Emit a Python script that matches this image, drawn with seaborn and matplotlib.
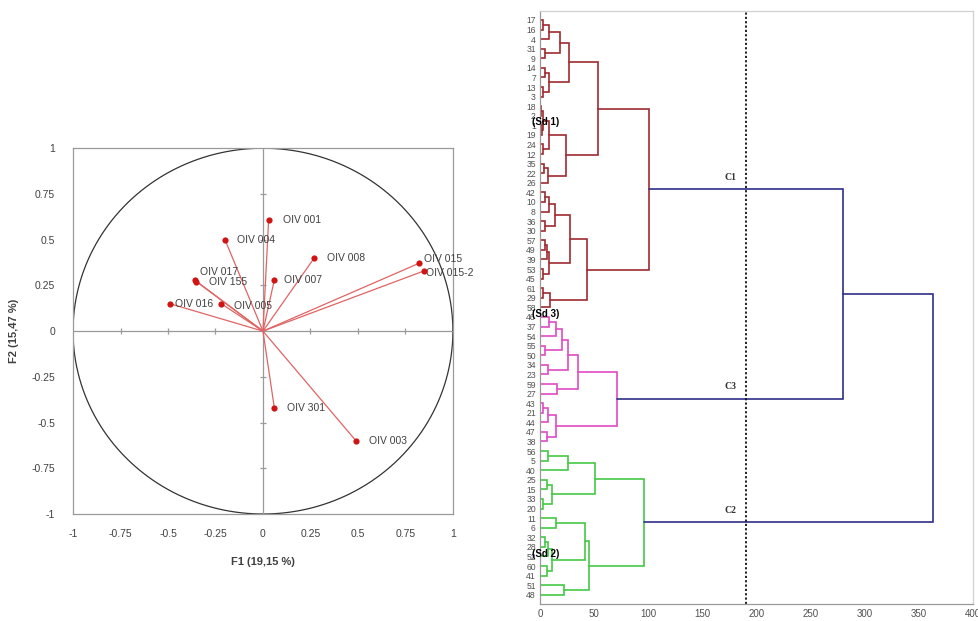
import numpy as np
import matplotlib
matplotlib.use("Agg")
import matplotlib.pyplot as plt
import seaborn as sns
import pandas as pd

# --- data: correlation circle (F1 x F2) ---
variables = ["OIV 001", "OIV 004", "OIV 008", "OIV 015", "OIV 015-2", "OIV 017",
             "OIV 155", "OIV 007", "OIV 016", "OIV 005", "OIV 301", "OIV 003"]
f1 = [0.03, -0.20, 0.27, 0.82, 0.85, -0.36, -0.35, 0.06, -0.49, -0.22, 0.06, 0.49]
f2 = [0.61, 0.50, 0.40, 0.37, 0.33, 0.28, 0.27, 0.28, 0.15, 0.15, -0.42, -0.60]
circle_ticks = [-1, -0.75, -0.5, -0.25, 0, 0.25, 0.5, 0.75, 1]
circle_ticklabels = ["-1", "-0.75", "-0.5", "-0.25", "0", "0.25", "0.5", "0.75", "1"]

# --- data: dendrogram ---
leaf_order = ["17", "16", "4", "31", "9", "14", "7", "13", "3", "18", "2", "1", "19", "24",
              "12", "35", "22", "26", "42", "10", "8", "36", "30", "57", "49", "39", "53",
              "45", "61", "29", "58", "46", "37", "54", "55", "50", "34", "23", "59", "27",
              "43", "21", "44", "47", "38", "56", "5", "40", "25", "15", "33", "20", "11",
              "6", "32", "28", "52", "60", "41", "51", "48"]

red_merges = [("r1", "17", "16", 2.8), ("r2", "r1", "4", 8), ("r3", "31", "9", 4.6),
              ("r4", "r2", "r3", 18), ("r5", "14", "7", 4.6), ("r6", "13", "3", 3),
              ("r7", "r5", "r6", 8.3), ("r8", "r4", "r7", 27), ("r9", "18", "2", 0.5),
              ("r10", "1", "19", 2), ("r11", "r9", "r10", 3), ("r12", "24", "12", 3),
              ("r13", "r11", "r12", 8), ("r14", "35", "22", 4), ("r15", "r14", "26", 7),
              ("r16", "r13", "r15", 24), ("r17", "r8", "r16", 54), ("r18", "42", "10", 4.6),
              ("r19", "r18", "8", 8.3), ("r20", "36", "30", 4.6), ("r21", "r19", "r20", 13.9),
              ("r22", "57", "49", 4.6), ("r23", "r22", "39", 6.5), ("r24", "53", "45", 3),
              ("r25", "r23", "r24", 8.3), ("r26", "r21", "r25", 27.7), ("r27", "61", "29", 3),
              ("r28", "r27", "58", 9), ("r29", "r26", "r28", 43), ("r30", "r17", "r29", 101)]
magenta_merges = [("m1", "46", "37", 8), ("m2", "m1", "54", 14.5), ("m3", "55", "50", 4.6),
                  ("m4", "m2", "m3", 20), ("m5", "34", "23", 7.7), ("m6", "m4", "m5", 26),
                  ("m7", "59", "27", 15.4), ("m8", "m6", "m7", 35.4), ("m9", "43", "21", 3),
                  ("m10", "m9", "44", 7.7), ("m11", "47", "38", 6), ("m12", "m10", "m11", 14.5),
                  ("m13", "m8", "m12", 70.8)]
green_merges = [("g1", "56", "5", 7.7), ("g2", "g1", "40", 26), ("g3", "25", "15", 6),
                ("g4", "33", "20", 3), ("g5", "g3", "g4", 10.8), ("g6", "g2", "g5", 50.8),
                ("g7", "11", "6", 14.5), ("g8", "32", "28", 4.6), ("g9", "g8", "52", 7.7),
                ("g10", "60", "41", 6), ("g11", "g9", "g10", 10.8), ("g12", "g7", "g11", 41.6),
                ("g13", "51", "48", 22.5), ("g14", "g12", "g13", 45.3), ("g15", "g6", "g14", 96.4)]
blue_merges = [("b1", "r30", "m13", 280), ("b2", "b1", "g15", 363)]
cluster_names = ["C1", "C3", "C2"]
cluster_nodes = ["r30", "m13", "g15"]
sd_names = ["(Sd 1)", "(Sd 3)", "(Sd 2)"]
sd_leaves = ["1", "46", "52"]
cut_height = 190

sns.set_style("white")
plt.rcParams["font.family"] = ["Liberation Sans", "DejaVu Sans"]

fig = plt.figure(figsize=(9.79, 6.21), dpi=100)
ax1 = fig.add_axes([0.0746, 0.1723, 0.388, 0.589])
ax2 = fig.add_axes([0.5516, 0.0274, 0.4423, 0.955])

# ---------- left: correlation circle ----------
grey = "#9a9a9a"
theta = np.linspace(0, 2 * np.pi, 400)
ax1.plot(np.cos(theta), np.sin(theta), color="#333333", lw=0.9)
ax1.axhline(0, color=grey, lw=0.9)
ax1.axvline(0, color=grey, lw=0.9)
inner = [t for t in circle_ticks if t not in (-1, 0, 1)]
ax1.plot(inner, [0] * len(inner), "|", color=grey, ms=5, mew=0.9)
ax1.plot([0] * len(inner), inner, "_", color=grey, ms=5, mew=0.9)

df = pd.DataFrame({"var": variables, "F1": f1, "F2": f2})
for x, y in zip(f1, f2):
    ax1.plot([0, x], [0, y], color="#e06464", lw=0.9)
sns.scatterplot(data=df, x="F1", y="F2", ax=ax1, color="#d01414", s=20,
                edgecolor="#d01414", linewidth=0, zorder=5)

offsets = [(10, 0), (9, 0), (9, 0), (4, 3.5), (1, -1.5), (4, 5.5),
           (9, 0), (7, 0), (4, 0), (9, -1.5), (9, 0), (9, 0)]
for name, x, y, off in zip(variables, f1, f2, offsets):
    ax1.annotate(name, (x, y), xytext=off, textcoords="offset points",
                 ha="left", va="center", fontsize=7.5, color="#404040")

ax1.set_xlim(-1, 1)
ax1.set_ylim(-1, 1)
ax1.set_xticks(circle_ticks)
ax1.set_xticklabels(circle_ticklabels)
ax1.set_yticks(circle_ticks)
ax1.set_yticklabels(circle_ticklabels)
ax1.tick_params(axis="x", length=0, labelsize=7.5, labelcolor="#404040", pad=11)
ax1.tick_params(axis="y", length=0, labelsize=7.5, labelcolor="#404040", pad=13)
ax1.set_xlabel("F1 (19,15 %)", fontsize=8, fontweight="bold", color="#404040", labelpad=13)
ax1.set_ylabel("F2 (15,47 %)", fontsize=8, fontweight="bold", color="#404040", labelpad=9)
for s in ax1.spines.values():
    s.set_color(grey)
    s.set_linewidth(0.9)

# ---------- right: dendrogram ----------
pos = {leaf: i for i, leaf in enumerate(leaf_order)}
hgt = {leaf: 0.0 for leaf in leaf_order}


def draw_merges(merges, color):
    for name, a, b, h in merges:
        pos[name] = (pos[a] + pos[b]) / 2
        hgt[name] = h
        ax2.plot([hgt[a], h, h, hgt[b]], [pos[a], pos[a], pos[b], pos[b]],
                 color=color, lw=1.2, solid_joinstyle="miter")


draw_merges(red_merges, "#9e2a30")
draw_merges(magenta_merges, "#e04cc4")
draw_merges(green_merges, "#44c844")
draw_merges(blue_merges, "#2e2e8a")

ax2.axvline(cut_height, color="#111111", lw=1.3, ls=(0, (1.2, 1.2)))

for cname, node in zip(cluster_names, cluster_nodes):
    ax2.text(170, pos[node] - 0.8, cname, fontsize=7, color="#333333",
             family=["Liberation Serif", "DejaVu Serif"], fontweight="bold",
             ha="left", va="bottom")

for sname, leaf in zip(sd_names, sd_leaves):
    ax2.text(-7.7, pos[leaf] - 0.3, sname, fontsize=7, fontweight="bold",
             color="black", ha="left", va="center", clip_on=False, zorder=6)

ax2.set_xlim(0, 400)
ax2.set_ylim(60.96, -0.94)
ax2.set_yticks(range(len(leaf_order)))
ax2.set_yticklabels(leaf_order)
ax2.set_xticks(range(0, 401, 50))
ax2.tick_params(axis="y", length=0, labelsize=6.2, labelcolor="#505050", pad=3)
ax2.tick_params(axis="x", length=2, color=grey, labelsize=7, labelcolor="#505050",
                pad=1.5, direction="out")
ax2.spines["left"].set_color(grey)
ax2.spines["bottom"].set_color(grey)
ax2.spines["top"].set_color("#d0d0d0")
ax2.spines["right"].set_color("#d0d0d0")
for s in ax2.spines.values():
    s.set_linewidth(0.9)

fig.savefig("out.png", dpi=100, facecolor="white")
